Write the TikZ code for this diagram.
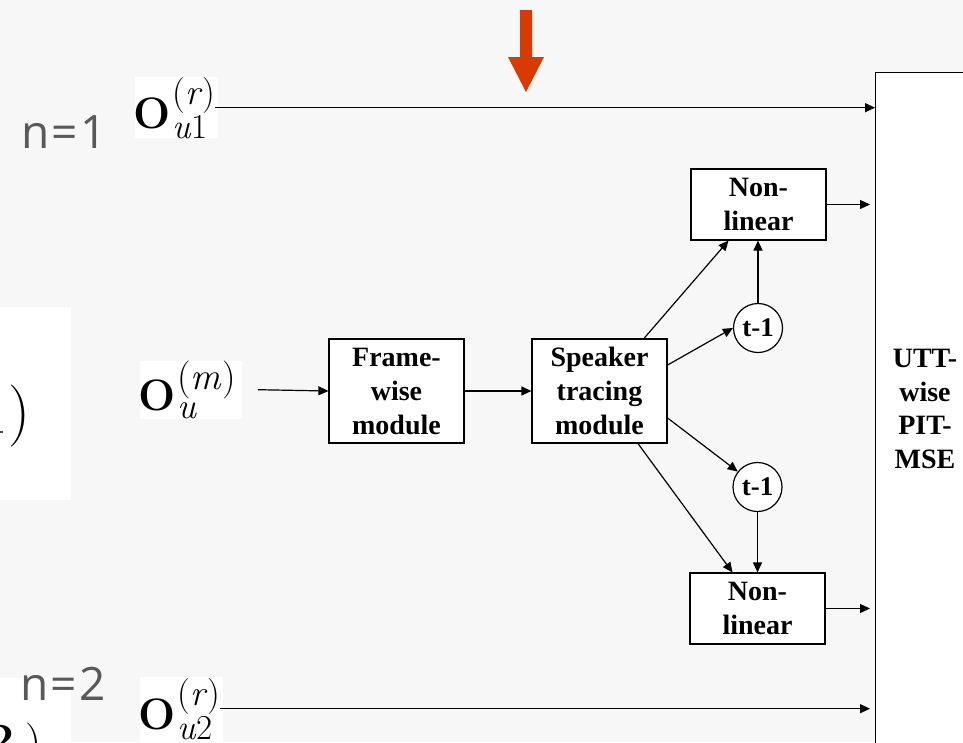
\documentclass[tikz,border=0pt]{standalone}
\usepackage{fontspec}
\newfontfamily\tnr{Liberation Serif}
\newfontfamily\osans[LetterSpace=5]{Open Sans}
\usetikzlibrary{arrows.meta,calc}
\definecolor{bg}{HTML}{F7F7F7}
\definecolor{redarrow}{HTML}{D83B01}
\definecolor{labgray}{HTML}{595959}
% bold O with sub- and superscript set in scalable text fonts
\newcommand\OO[6]{\textbf{O}\kern2pt\rlap{\raisebox{-#5pt}{\fontsize{#1}{#1}\selectfont #2}}\raisebox{#6pt}{\fontsize{#3}{#3}\selectfont #4}}
\begin{document}
\begin{tikzpicture}[x=1pt,y=-1pt,
  box/.style={draw=black, line width=1.2pt, fill=white, minimum width=135pt, align=center, inner sep=0pt,
    font=\tnr\bfseries\fontsize{28}{34}\selectfont},
  delay/.style={draw=black, line width=1.2pt, fill=white, circle, minimum size=49pt, inner sep=0pt,
    font=\tnr\bfseries\fontsize{27}{27}\selectfont},
  mathlab/.style={anchor=base west, inner sep=0pt, font=\fontsize{44}{44}\selectfont},
  nlab/.style={anchor=base west, inner sep=0pt, text=labgray, font=\osans\fontsize{46}{46}\selectfont},
  arr/.style={line width=1.2pt, -{Triangle[length=10pt,width=9pt]}}
]
\fill[bg] (0,0) rectangle (963,742);
\useasboundingbox (0,0) rectangle (963,742);
\clip (0,0) rectangle (963,742);

% cropped pieces on the left
\fill[white] (0,307) rectangle (71,500);
\node[anchor=base west, inner sep=0pt, font=\fontsize{62}{62}\selectfont] (paren) at (8,431) {)};
\fill[black!70] (0,431) rectangle (3,433);
\fill[white] (0,678) rectangle (71,742);
\node[anchor=base west, inner sep=0pt, font=\bfseries\fontsize{46}{46}\selectfont] (two) at (-12,755) {2};
\node[anchor=base west, inner sep=0pt, font=\fontsize{46}{46}\selectfont] (paren2) at (25,757) {)};

% red marker arrow
\fill[redarrow] (520,10) -- (532,10) -- (532,57) -- (544,57) -- (526,92) -- (508,57) -- (520,57) -- cycle;

% labels
\node[nlab] (n1) at (21,148) {n=1};
\node[nlab] (n2) at (20,700) {n=2};

% inputs (white backgrounds, then the symbols)
\fill[white] (135,77) rectangle (218,138);
\fill[white] (140,361) rectangle (242,419);
\fill[white] (140,677) rectangle (223,742);
\node[mathlab] (u1) at (133,128) {\OO{35}{\textit{u}1}{36}{(\textit{r})}{10}{24}};
\node[mathlab] (um) at (138,410) {\OO{36}{\textit{u}}{38}{(\textit{m})}{8}{20.5}};
\node[mathlab] (u2) at (138,729) {\OO{35}{\textit{u}2}{36}{(\textit{r})}{10}{24}};

% blocks
\node[box, minimum height=104pt] (fw) at (396.5,391) {Frame-\\wise\\module};
\node[box, minimum height=104pt] (sp) at (599.5,391) {Speaker\\tracing\\module};
\node[box, minimum height=71pt] (nl1) at (758.5,204.5) {Non-\\linear};
\node[box, minimum height=71pt] (nl2) at (757.5,608.5) {Non-\\linear};
\node[delay] (t1) at (758,328) {t-1};
\node[delay] (t2) at (757.5,487) {t-1};

% loss box
\node[draw=black, line width=1.2pt, fill=white, minimum width=130pt, minimum height=730pt, anchor=north west] (utt) at (875,72) {};
\node[align=center, inner sep=0pt, font=\tnr\bfseries\fontsize{28}{33.5}\selectfont] (utttxt) at (925,409) {UTT-\\wise\\PIT-\\MSE};

% connectors
\draw[arr] (u1.east) -- (utt.west |- u1.east);
\draw[arr] ([xshift=22pt]um.east) -- (fw.west);
\draw[arr] (fw.east) -- (sp.west);
\draw[arr] ([xshift=44.5pt]sp.north) -- ([xshift=-30pt]nl1.south);
\draw[arr] ([yshift=26pt]sp.east) -- (t1.west);
\draw[arr] (t1.north) -- (t1.north |- nl1.south);
\draw[arr] ([yshift=-27pt]sp.east) -- (t2.142);
\draw[arr] ([xshift=38.5pt]sp.south) -- ([xshift=-25pt]nl2.north);
\draw[arr] (t2.south) -- (t2.south |- nl2.north);
\draw[arr] (nl1.east) -- ($(utt.west |- nl1.east)+(-5,0)$);
\draw[arr] (nl2.east) -- ($(utt.west |- nl2.east)+(-5,0)$);
\draw[arr] (u2.east) -- ($(utt.west |- u2.east)+(-5,0)$);
\end{tikzpicture}
\end{document}
